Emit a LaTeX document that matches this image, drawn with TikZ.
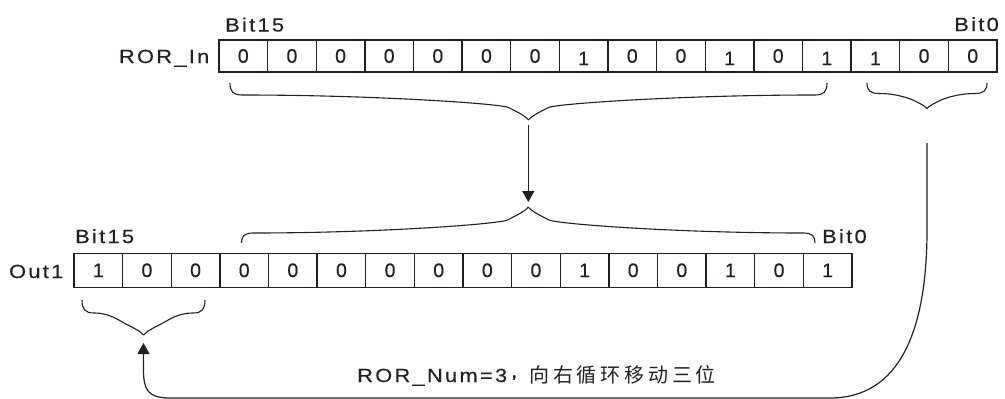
\documentclass[tikz,border=0pt]{standalone}
\usepackage{fontspec}
\setmainfont{Liberation Sans}[FakeBold=0.4]
\newfontfamily\lsfont{Liberation Sans}[FakeStretch=1.15,LetterSpace=12,FakeBold=0.4]
\newfontfamily\cjkfont{Noto Sans CJK SC}[LetterSpace=19]
\usetikzlibrary{arrows.meta,calc}
\definecolor{ink}{HTML}{231F20}
% half of a curly brace: #1 end x, #2 +1 left half / -1 right half, #3 tip x,
% #4 end y, #5 +1 opens down / -1 opens up, #6 hook depth, #7 cusp depth
\newcommand{\rorhalf}[7]{%
  \pgfmathsetmacro{\rbHx}{#1+12*(#2)}%
  \pgfmathsetmacro{\rbHy}{#4+(#6)*(#5)}%
  \pgfmathsetmacro{\rbKx}{#1+3*(#2)}%
  \pgfmathsetmacro{\rbKy}{#4+0.7*(#6)*(#5)}%
  \pgfmathsetmacro{\rbMx}{#3-0.8*(#7)*(#2)}%
  \pgfmathsetmacro{\rbMy}{#4+((#6)+0.5*(#7))*(#5)}%
  \pgfmathsetmacro{\rbAx}{\rbHx+0.5*(\rbMx-\rbHx)}%
  \pgfmathsetmacro{\rbBx}{#3-1.1*(#7)*(#2)}%
  \pgfmathsetmacro{\rbBy}{#4+((#6)+0.35*(#7))*(#5)}%
  \pgfmathsetmacro{\rbCx}{#3-0.5*(#7)*(#2)}%
  \pgfmathsetmacro{\rbCy}{#4+((#6)+0.65*(#7))*(#5)}%
  \pgfmathsetmacro{\rbDx}{#3-0.1*(#7)*(#2)}%
  \pgfmathsetmacro{\rbDy}{#4+((#6)+0.85*(#7))*(#5)}%
  \pgfmathsetmacro{\rbTy}{#4+((#6)+(#7))*(#5)}%
  \draw[brc] (#1,#4) .. controls (#1,\rbKy) and (\rbKx,\rbHy) .. (\rbHx,\rbHy)
    .. controls (\rbAx,\rbHy) and (\rbBx,\rbBy) .. (\rbMx,\rbMy)
    .. controls (\rbCx,\rbCy) and (\rbDx,\rbDy) .. (#3,\rbTy);%
}
\tikzset{
  cell/.style={draw=ink, line width=1.3pt, minimum width=48.625pt, inner sep=0pt, outer sep=0pt},
  digit/.style={text=ink, inner sep=0pt, font=\fontsize{19.5}{24}\selectfont},
  lbl/.style={text=ink, inner sep=0pt, font=\lsfont\fontsize{19}{24}\selectfont},
  brc/.style={draw=ink, line width=1.1pt},
  arr/.style={draw=ink, line width=1.2pt, -{Triangle[width=12pt,length=11pt]}},
}
\begin{document}
\begin{tikzpicture}[x=1pt,y=-1pt]
\useasboundingbox (0,0) rectangle (1005,399);
% top register
\foreach \v [count=\i from 0] in {0,0,0,0,0,0,0,1,0,0,1,0,1,1,0,0}{
  \node[cell, minimum height=32pt] (in\i) at ({219+48.625*(\i+0.5)},56) {};
  \ifnum\v=1
    \node[digit] (din\i) at ([yshift=-2.5pt]in\i.center) {\v};
  \else
    \node[digit] (din\i) at (in\i.center) {\v};
  \fi
}
% bottom register
\foreach \v [count=\i from 0] in {1,0,0,0,0,0,0,0,0,0,1,0,0,1,0,1}{
  \node[cell, minimum height=34pt] (out\i) at ({74+48.625*(\i+0.5)},270.3) {};
  \node[digit] (dout\i) at (out\i.center) {\v};
}
% labels
\node[lbl, anchor=base east] (rorin) at (209.5,63) {ROR\_In};
\node[lbl, anchor=base west] (b15t) at (225,31.5) {Bit15};
\node[lbl, anchor=base east] (b0t) at (999,31) {Bit0};
\node[lbl, anchor=base west] (b15b) at (75,243) {Bit15};
\node[lbl, anchor=base west] (b0b) at (822,243) {Bit0};
\node[lbl, anchor=base east] (outl) at (63.5,278) {Out1};
\node[lbl, anchor=base west] (note) at (357,382)
  {ROR\_Num=3\hspace{4pt}\raisebox{4.5pt}{,}\hspace{12pt}{\cjkfont\fontsize{20}{24}\selectfont 向右循环移动三位}};
% braces
\rorhalf{230}{1}{528.5}{83}{1}{12}{25}
\rorhalf{827}{-1}{528.5}{83}{1}{12}{25}
\rorhalf{867}{1}{927}{83}{1}{10.5}{15}
\rorhalf{987}{-1}{927}{83}{1}{10.5}{15}
\rorhalf{241.5}{1}{528.3}{243}{-1}{10}{26}
\rorhalf{815}{-1}{528.3}{243}{-1}{10}{26}
\rorhalf{82}{1}{143.5}{300}{1}{13}{22}
\rorhalf{205}{-1}{143.5}{300}{1}{13}{22}
% arrows
\coordinate (a1) at (528.3,125);
\coordinate (a2) at (528.3,202);
\draw[arr] (a1) -- (a2);
\coordinate (b1) at (927,143);
\coordinate (b2) at (143.5,343);
\draw[arr] (b1) -- (927,230) .. controls (927,330) and (900,398) .. (830,398)
  -- (170,398) .. controls (148,398) and (143.5,390) .. (143.5,370) -- (b2);
\end{tikzpicture}
\end{document}
